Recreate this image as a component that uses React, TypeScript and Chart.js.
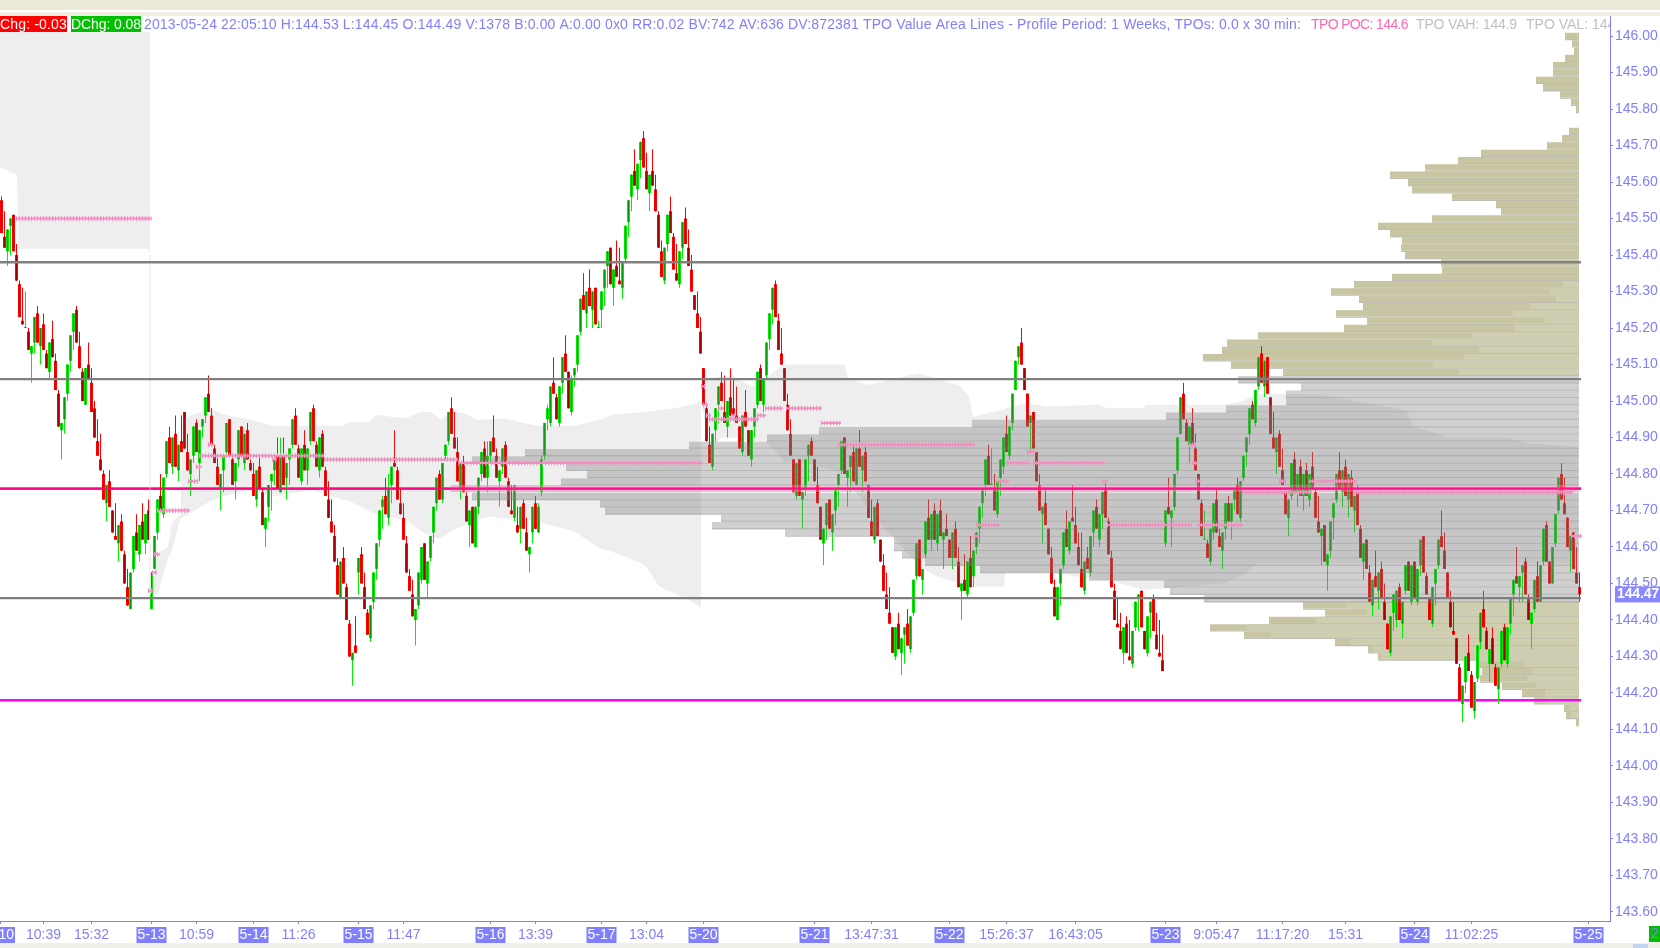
import React, { useEffect, useRef } from "react";
import { Chart, registerables } from "chart.js";

Chart.register(...registerables);

// Prices are stored as hundredths above 144.00; x positions are bar slots.
const BASE = 144;
const opens = [
155,145,141,148,151,140,132,122,120,119,
113,116,124,115,121,113,108,117,111,102,
92,95,102,111,119,125,115,108,99,110,
105,98,89,84,80,72,78,70,63,61,
67,58,49,43,54,64,58,67,61,70,
43,54,64,74,69,80,90,82,91,81,
89,97,86,80,85,94,83,93,96,102,
96,87,82,76,81,86,95,84,78,84,
93,83,92,83,80,73,82,75,65,71,
78,81,85,75,85,79,84,88,96,87,
78,88,81,89,98,88,81,91,81,73,
67,63,55,46,57,49,39,29,33,53,
58,49,42,35,45,54,62,71,74,68,
77,83,81,72,68,61,52,47,40,44,
51,61,50,57,64,72,80,73,85,89,
98,90,86,76,83,74,66,71,60,71,
80,87,79,85,90,85,78,82,88,78,
70,68,66,65,72,64,58,64,72,64,
75,85,95,94,105,101,94,105,113,108,
97,107,110,119,129,124,131,125,131,120,
125,131,137,142,131,137,133,131,139,149,
156,163,158,166,172,163,157,163,158,151,
141,133,143,152,145,135,132,142,150,142,
136,129,124,119,109,98,88,82,92,99,
105,97,93,101,98,96,93,86,97,92,
84,93,99,109,99,107,117,125,132,122,
113,109,99,91,84,74,84,73,76,85,
89,84,77,71,61,66,73,64,70,77,
81,90,79,82,86,77,87,81,86,77,
67,62,72,62,55,47,42,38,30,39,
31,36,39,32,42,52,62,51,58,68,
62,70,61,70,62,65,62,57,65,56,
48,51,47,57,52,60,65,72,77,85,
77,76,69,79,82,91,85,94,103,112,
116,109,102,94,97,86,77,69,72,65,
57,49,40,50,55,65,59,68,66,60,
54,48,57,53,64,71,62,69,76,67,
57,48,39,37,31,39,30,28,38,46,
48,37,31,42,46,36,31,29,61,71,
68,71,81,91,102,94,88,94,87,80,
72,62,61,56,64,73,63,59,65,72,
67,73,77,68,79,86,91,99,94,104,
113,104,112,101,90,86,91,81,75,68,
74,84,75,82,74,81,73,82,75,67,
63,66,55,59,68,73,81,75,82,73,
79,70,75,65,56,62,53,44,52,48,
54,45,39,31,42,40,49,39,48,56,
45,56,45,55,63,52,46,39,50,55,
63,59,53,45,37,35,27,17,23,31,
25,15,24,34,43,37,28,35,27,21,
28,38,28,39,47,52,49,53,56,46,
39,43,52,45,56,66,56,50,61,70,
80,72,68,59,64,53,49];
const closes = [
146,142,147,150,141,133,123,121,120,114,
115,123,116,120,114,109,116,112,103,93,
94,101,110,118,124,116,109,100,109,106,
97,90,85,81,73,77,71,64,62,66,
59,50,44,53,63,59,66,62,69,62,
53,63,73,70,79,89,83,90,82,88,
86,87,81,84,93,86,92,95,101,97,
88,83,77,80,85,94,85,77,83,92,
85,91,84,81,74,81,76,66,68,77,
80,84,76,85,77,83,87,95,88,79,
87,81,87,97,89,82,90,82,74,68,
64,56,47,56,50,40,30,31,31,57,
50,43,36,44,53,61,70,73,69,76,
82,82,73,69,62,53,48,41,43,53,
60,51,56,63,71,79,73,83,88,97,
91,87,78,83,75,67,70,61,71,79,
86,79,85,89,86,79,81,87,79,71,
69,77,64,71,65,59,60,71,65,71,
84,94,98,104,102,95,104,112,108,98,
106,109,118,128,125,130,126,130,121,120,
130,136,141,132,136,134,132,138,148,155,
162,159,165,171,164,158,162,159,152,142,
134,142,151,146,136,133,141,149,143,137,
130,125,120,113,99,89,83,91,98,104,
100,94,100,96,96,94,87,96,93,85,
92,98,108,100,106,116,124,131,123,114,
110,100,92,85,75,83,74,75,84,88,
85,78,72,62,65,72,65,69,76,80,
89,80,81,85,78,87,82,85,78,68,
63,71,63,56,48,43,39,31,38,32,
35,38,33,41,51,61,52,54,67,62,
69,62,69,63,64,63,57,64,57,49,
50,48,56,49,59,64,71,76,84,77,
77,70,78,84,90,86,93,102,111,115,
110,103,93,96,87,78,70,71,66,58,
50,41,49,54,64,60,67,67,61,55,
49,56,54,63,70,65,69,75,68,58,
49,40,38,32,38,31,29,37,45,47,
38,32,41,45,37,32,30,26,70,69,
70,80,90,101,95,89,93,88,81,73,
63,62,57,65,72,64,60,64,72,67,
72,76,69,78,85,90,98,95,103,112,
105,111,102,91,87,90,82,77,69,73,
83,75,80,74,80,74,80,76,68,64,
65,56,58,67,72,80,76,81,74,80,
71,74,66,57,61,54,45,51,49,53,
46,40,32,41,47,48,40,45,55,48,
55,46,54,62,53,47,40,49,54,62,
60,54,46,38,36,28,18,22,30,26,
16,23,33,42,38,32,32,28,22,27,
37,29,38,46,51,50,52,55,47,40,
42,51,45,55,65,56,50,60,69,79,
73,69,60,63,54,50,47];
const highs = [
156,152,147,150,151,143,133,131,130,120,
115,123,126,120,124,114,116,122,113,103,
94,101,110,118,124,126,119,109,109,116,
109,100,95,91,81,77,81,70,72,66,
69,59,54,53,63,69,66,72,69,73,
53,63,73,80,79,89,93,90,96,88,
96,97,91,84,93,95,92,95,101,107,
98,88,85,80,85,94,95,85,83,92,
93,91,94,84,83,81,85,76,68,77,
80,84,90,90,90,83,87,95,98,88,
87,92,87,97,99,89,90,92,82,78,
73,66,57,56,60,50,40,31,41,57,
60,53,43,44,53,61,70,74,79,80,
82,92,82,76,72,63,54,51,43,53,
60,61,56,63,71,79,81,83,88,97,
101,97,90,83,85,75,70,71,71,79,
86,89,89,89,96,87,81,87,89,79,
77,77,71,71,73,68,60,71,74,72,
85,94,99,104,112,102,104,112,118,108,
107,109,118,128,135,130,136,130,131,122,
130,136,141,142,136,144,142,138,148,155,
162,169,165,171,174,168,162,169,162,152,
144,142,151,156,146,143,141,149,153,147,
140,129,130,123,109,99,93,91,98,104,
108,107,100,109,106,104,93,96,103,92,
92,98,108,110,106,116,124,131,133,124,
120,109,102,95,84,83,84,75,84,88,
90,84,82,71,65,72,73,69,76,80,
89,90,81,85,88,87,92,85,88,77,
73,71,73,62,58,53,49,38,38,42,
35,38,43,41,51,61,62,54,67,73,
69,72,69,73,64,69,62,64,67,60,
50,58,56,63,59,64,71,76,84,88,
87,80,78,84,90,96,93,102,111,115,
120,109,102,96,97,86,80,71,76,65,
60,51,49,54,64,70,67,77,71,64,
64,56,60,63,70,73,69,75,78,68,
59,50,46,42,38,41,40,37,45,47,
48,37,41,45,47,42,40,36,70,79,
70,80,90,101,105,95,93,98,91,80,
73,70,62,65,72,76,65,64,72,74,
72,76,79,78,85,90,98,100,103,112,
115,111,112,101,97,90,92,87,76,73,
83,86,80,84,80,83,80,86,76,74,
65,66,58,67,72,80,86,81,84,80,
81,74,77,66,61,62,55,51,59,53,
56,50,39,41,47,48,50,45,55,56,
55,56,54,62,63,53,46,49,54,62,
70,64,53,48,45,35,28,22,30,36,
26,23,33,42,48,38,32,38,28,27,
37,39,38,46,51,60,52,55,57,47,
42,51,56,55,65,67,56,60,69,79,
83,79,68,63,64,60,53];
const lows = [
146,142,137,140,141,133,123,121,120,114,
105,113,116,110,114,109,106,112,103,93,
84,91,100,108,114,116,109,100,99,106,
97,90,85,81,73,67,71,64,62,56,
59,50,44,43,53,59,56,62,58,62,
43,54,62,70,68,79,83,80,82,78,
86,87,81,74,83,86,78,90,94,97,
88,83,77,70,75,85,85,77,73,82,
85,81,84,81,74,71,76,66,60,67,
70,77,76,75,77,73,77,87,88,79,
77,81,77,88,89,82,79,82,74,68,
64,56,47,46,50,40,30,22,31,47,
50,43,36,34,43,51,60,65,69,66,
72,82,73,69,62,53,48,41,33,43,
50,51,46,56,61,70,73,72,84,88,
91,87,78,73,75,67,60,61,60,69,
78,79,75,83,86,79,71,80,79,71,
69,67,64,61,65,59,53,61,65,64,
74,84,92,93,102,95,93,102,108,98,
96,104,108,118,125,120,126,120,121,120,
120,126,131,132,126,134,132,128,138,145,
152,159,155,161,164,158,152,159,152,142,
134,132,141,146,136,133,131,139,143,137,
130,125,120,113,99,89,83,81,89,94,
100,94,90,96,96,94,87,85,93,85,
82,90,98,100,97,106,114,121,123,114,
110,100,92,85,75,73,74,65,74,78,
85,78,72,62,55,62,65,59,66,71,
80,80,71,75,78,77,82,75,78,68,
63,61,63,56,48,43,39,31,29,32,
25,28,33,31,41,51,52,47,57,62,
59,62,59,63,54,63,57,54,57,49,
40,48,46,49,49,58,61,68,74,77,
77,70,68,74,80,86,84,92,103,110,
110,103,93,86,87,78,70,61,66,58,
50,41,40,44,54,60,58,67,61,55,
49,47,54,52,60,65,60,65,68,58,
49,40,38,32,28,31,29,27,37,37,
38,32,30,35,37,32,30,26,60,69,
60,70,80,91,95,89,83,88,81,73,
63,62,57,55,62,64,60,54,62,67,
62,70,69,67,78,82,88,95,93,103,
105,101,102,91,87,80,82,77,69,63,
73,75,71,74,70,74,71,76,68,64,
55,56,48,57,62,72,76,71,74,68,
71,64,66,57,51,54,45,41,49,43,
46,40,32,30,37,38,40,35,47,48,
44,46,44,52,53,47,40,38,44,54,
60,54,46,38,36,28,18,12,20,26,
16,13,23,32,38,32,23,28,22,17,
27,29,27,36,41,50,45,45,47,40,
32,42,45,45,55,56,50,50,60,69,
73,69,60,53,54,50,45];

// Volume profile rows: [price, count]
const tanRows = [[200,14],[198,7],[196,5],[194,14],[192,26],[190,26],[188,43],[186,36],[184,19],[182,8],[180,3],
[174,10],[172,17],[170,32],[168,98],[166,121],[164,154],[162,189],[160,171],[158,167],[156,127],[154,83],[152,78],
[150,147],[148,201],[146,189],[144,177],[142,178],[140,174],[138,138],[136,137],[134,187],[132,225],[130,248],[128,220],
[126,216],[124,243],[122,212],[120,235],[118,321],[116,352],[114,357],[112,376],[110,348],[108,296],
[44,276],[42,254],[40,310],[38,369],[36,335],[34,244],[32,211],[30,201],[28,101],[26,97],[24,99],[22,77],[20,57],[18,45],[16,15],[14,13],[12,3]];
const tanLightRows = [[132,16],[130,29],[128,23],[126,49],[124,66],[122,34],[120,65],[118,107],[116,147],[114,100],[112,115],[110,146],[108,120],
[44,232],[42,212],[40,263],[38,332],[36,308],[34,229],[32,206],[30,198],[28,54],[26,47],[24,52],[22,43],[20,34],[18,33],[16,9],[14,8]];
const valueAreaRows = [[106,341],[104,278],[102,293],[100,293],[98,353],[96,413],[94,607],[92,760],[90,812],[88,890],[86,1054],[84,1107],[82,1013],[80,992],[78,1018],
[74,1107],[72,979],[70,974],[68,858],[66,867],[64,794],[62,685],[60,685],[58,677],[56,654],[54,599],[52,490],[50,415],[48,409],[46,375]];
const pocRow = [[76,1128]];

// Composite value-area bands: slot, upper price, lower price
const band1X = [0,5.7,6.1,49.5,50];
const band1Top = [201.1,201.1,201.1,201.1,201.1];
const band1Bot = [164.1,162,141.7,141.7,140];
const band2X = [50,52.6,56,57.3,60.2,60.8,70,74.8,84,91,104,114.6,115.8,122.7,125.7,132,136,140,143.8,147,150,155,159,163.7,168,179,191.6,199.7,204,207,215,219.7,224.8,230.7,233.7];
const band2Top = [47,58.3,60,66.5,69,95,98,96.2,94.8,93.2,93.2,93.2,94.1,94.1,96.2,95.5,95.5,97,97,94.8,97,96.6,94.8,95,95.2,93.2,93.2,94.8,96.2,96.5,97,97.5,98,99,100];
const band2Bot = [47,47,57,59,68,68,72.5,74,75.7,73.8,75.7,72.9,72.9,70,69,67.9,67,64.5,62.7,62.4,64.2,66,67.5,68.3,67.9,67,64.2,59.7,58.7,57.8,55,49.2,47.3,45.1,43.2];
const band3X = [234,235.7,238.4,240.7,244,250.6,254.8,258,261.7,265,281.5,282.7,289.7,306,312,320,323,324.3,334.6,335.3,342.3,349.3,366.7,369,381,382,408,414.3,419,440,456,469,471,483,502,509.6,526];
const band3Top = [105.8,105.8,106.5,106.7,107,104,105.8,108,110,110,110,106.2,104.4,107.6,106.2,104.2,101.2,95.7,97.7,98,99.4,98.5,99,98,98,99,99,100,102,101.8,99.4,97.5,93,90,90,88.4,87.5];
const band3Bot = [98,92,88.4,90,90,89,89,86.6,83,84,80,78,70,55,52,50,49.2,49.2,49.2,53,53,53,51,51,48.3,48.3,50,52.3,55.5,55.5,55.5,55.5,55.5,55.5,55.5,55.5,55.5];

// Daily TPO point-of-control segments: [start slot, end slot, price]
const pocSegments = [[5.3,50.5,150],[49.3,51.3,48],[50.7,52.3,53],[51.3,53.3,58],[52.3,63.3,70],[62.7,66,78],[65.3,67.3,82],[66.3,108,85],[69.3,71.3,88],[90.7,92.3,84],[108,152.7,84],[152.7,234,83],
[233.7,235.3,104],[234.3,236,99],[235.3,237,96],[236.3,253,95],[239.3,241.3,98],[243.7,245.3,96],[252.3,255.3,96],[255,261,98],[262,274,98],[273.7,280.3,94],[279.3,325,88],[324.7,326.3,63],[325.3,333.3,66],[332.3,336.3,78],[335.7,343,83],[342.3,345.3,86],[344.3,368.3,83],[367.3,369.3,78],[369,397.3,66],[396.3,398.7,88],[397.3,399.3,83],[398.3,400.3,78],[399.3,414.3,66],[414,427.3,75],[426.3,428.7,78],[427.3,437.3,75],[436.3,452.3,78],[451.3,524.3,75],[523.7,527.3,63]];

const levelGrey = [138,106,46];
const levelPink = 76;
const levelMagenta = 18;
const levelEnd = 527;

const yTicks = [146,145.9,145.8,145.7,145.6,145.5,145.4,145.3,145.2,145.1,145,144.9,144.8,144.7,144.6,144.5,144.4,144.3,144.2,144.1,144,143.9,143.8,143.7,143.6];
const xTickSlots = [0,14.5,30.5,50.5,65.5,84.5,99.5,119.5,134.5,163.5,178.5,200.5,215.5,234.5,271.5,290.5,316.5,335.5,358.5,388.5,405.5,427.5,448.5,471.5,490.5,529.5];
const xTickLabels = ["5-10","10:39","15:32","5-13","10:59","5-14","11:26","5-15","11:47","5-16","13:39","5-17","13:04","5-20","5-21","13:47:31","5-22","15:26:37","16:43:05","5-23","9:05:47","11:17:20","15:31","5-24","11:02:25","5-25"];
const lastPrice = 144.47;
const headerText = "2013-05-24 22:05:10 H:144.53 L:144.45 O:144.49 V:1378 B:0.00 A:0.00 0x0 RR:0.02 BV:742 AV:636 DV:872381 TPO Value Area Lines - Profile Period: 1 Weeks, TPOs: 0.0 x 30 min:";
const chgText = "Chg: -0.03";
const dchgText = "DChg: 0.08";
const pocText = "TPO POC: 144.6";
const vahText = "TPO VAH: 144.9";
const valText = "TPO VAL: 144.4";

const BLUE = "#8080ff";
const FONT = '"Liberation Sans"';
const SLOT_PX = 3;
const ANCHOR = 526.33;
const price = (t: number) => BASE + t / 100;

function rowLine(rows: number[][]) {
  const out: any[] = [];
  for (const [t, n] of rows) {
    out.push({ x: ANCHOR - n / SLOT_PX, y: price(t) }, { x: ANCHOR, y: price(t) }, { x: ANCHOR, y: null });
  }
  return out;
}
function sepLine(rows: number[][]) {
  const out: any[] = [];
  for (const [t, n] of rows) {
    out.push({ x: ANCHOR - n / SLOT_PX, y: price(t - 1) }, { x: ANCHOR, y: price(t - 1) }, { x: ANCHOR, y: null });
  }
  return out;
}
const line = (data: any[], color: string, width: number, order: number, extra: any = {}) => ({
  type: "line", data, borderColor: color, borderWidth: width, pointRadius: 0, order,
  borderCapStyle: "butt", spanGaps: false, tension: 0, fill: false, ...extra,
});
const bandPair = (xs: number[], top: number[], bot: number[], order: number) => [
  line(xs.map((x, i) => ({ x, y: price(top[i]) })), "rgba(0,0,0,0)", 0, order, { fill: "+1", backgroundColor: "rgba(128,128,128,0.133)" }),
  line(xs.map((x, i) => ({ x, y: price(bot[i]) })), "rgba(0,0,0,0)", 0, order),
];
function fitText(ctx: any, text: string, x: number, y: number, width: number) {
  ctx.letterSpacing = "0px";
  const w = ctx.measureText(text).width;
  ctx.letterSpacing = `${(width - w) / text.length}px`;
  ctx.fillText(text, x, y);
  ctx.letterSpacing = "0px";
}

function chromePlugin() {
  return {
    id: "chrome",
    afterDraw(chart: any) {
      const { ctx, scales } = chart;
      ctx.save();
      ctx.fillStyle = "#ece9d8"; ctx.fillRect(0, 0, 1660, 10);
      ctx.fillStyle = "#ffffff"; ctx.fillRect(0, 10, 1660, 2);
      ctx.fillStyle = "#f0eee0"; ctx.fillRect(0, 12, 1660, 4);
      ctx.fillStyle = "#ffffff"; ctx.fillRect(0, 16, 1609, 16);
      ctx.fillStyle = "#f1f0e8"; ctx.fillRect(0, 943, 1660, 5);
      ctx.fillStyle = "#c4d4f0"; ctx.fillRect(1633, 944, 15, 4);
      ctx.fillStyle = "#ff0000"; ctx.fillRect(0, 16, 67, 16);
      ctx.fillStyle = "#00c000"; ctx.fillRect(71, 16, 70, 16);
      ctx.fillStyle = BLUE; ctx.fillRect(1610, 16, 1, 16);
      ctx.font = `14px ${FONT}`;
      ctx.textBaseline = "middle";
      ctx.textAlign = "left";
      ctx.fillStyle = "#ffffff";
      fitText(ctx, chgText, 0, 25, 67);
      fitText(ctx, dchgText, 71, 25, 70);
      ctx.fillStyle = BLUE;
      fitText(ctx, headerText, 144, 25, 1157);
      ctx.fillStyle = "#ff69b4";
      fitText(ctx, pocText, 1311, 25, 97);
      ctx.fillStyle = "#c0c0c0";
      fitText(ctx, vahText, 1416, 25, 101);
      ctx.save();
      ctx.beginPath(); ctx.rect(0, 16, 1610, 16); ctx.clip();
      fitText(ctx, valText, 1526, 25, 101);
      ctx.restore();
      const y = scales.y.getPixelForValue(lastPrice);
      ctx.fillStyle = "#8888ff";
      ctx.fillRect(1615, y - 8, 45, 16);
      ctx.fillStyle = "#ffffff";
      ctx.font = `bold 14px ${FONT}`;
      fitText(ctx, lastPrice.toFixed(2), 1617, y, 42);
      ctx.fillStyle = "#00c000"; ctx.fillRect(1649, 926, 11, 16);
      ctx.fillStyle = BLUE; ctx.font = `14px ${FONT}`;
      ctx.fillText("2", 1651, 934);
      ctx.restore();
    },
  };
}

export default function App() {
  const ref = useRef<HTMLCanvasElement | null>(null);
  useEffect(() => {
    document.body.style.margin = "0";
    const n = opens.length;
    const up: any = { wick: [], body: [], core: [] };
    const dn: any = { wick: [], body: [], core: [] };
    for (let i = 0; i < n; i++) {
      const o = price(opens[i]), c = price(closes[i]);
      const set = closes[i] >= opens[i] ? up : dn;
      const x = i + 0.5;
      set.wick.push({ x, y: [price(lows[i]), price(highs[i])] });
      set.body.push({ x, y: [Math.min(o, c), Math.max(o, c)] });
      set.core.push({ x, y: [Math.min(o, c), Math.max(o, c)] });
    }
    const bar = (data: any[], color: string, thick: number, order: number) => ({
      type: "bar", data, backgroundColor: color, barThickness: thick, grouped: false, order,
      borderWidth: 0, inflateAmount: 0, minBarLength: 1,
    });
    const pocData: any[] = [];
    for (const [a, b, t] of pocSegments) {
      pocData.push({ x: a, y: price(t) }, { x: b, y: price(t) }, { x: b, y: null });
    }
    const hl = (t: number, color: string, order: number) =>
      line([{ x: 0, y: price(t) }, { x: levelEnd, y: price(t) }], color, 2.4, order);
    const datasets: any[] = [
      line(sepLine(tanRows), "#bcbcb4", 1.3, 30),
      line(rowLine(tanRows), "#c8c5a2", 6.3, 29),
      line(rowLine(tanLightRows), "#d0ceb0", 6.3, 28),
      hl(levelPink, "#ff0080", 27),
      hl(levelMagenta, "#ff00ff", 26),
      bar(dn.wick, "#ff0000", 1, 25),
      bar(up.wick, "#00f000", 1, 24),
      bar(dn.body, "#ff0000", 3, 23),
      bar(up.body, "#00e800", 3, 22),
      bar(dn.core, "#a80000", 1, 21),
      bar(up.core, "#00a000", 1, 20),
      ...bandPair(band1X, band1Top, band1Bot, 12),
      ...bandPair(band2X, band2Top, band2Bot, 11),
      ...bandPair(band3X, band3Top, band3Bot, 10),
      line([{ x: 50, y: price(140) }, { x: 50, y: price(47) }], "#f0f0f0", 1, 9),
      line(sepLine(valueAreaRows), "rgba(128,128,128,0.5)", 1.3, 8),
      line(rowLine(valueAreaRows), "rgba(128,128,128,0.37)", 6.3, 7),
      line(rowLine(pocRow), "rgba(250,130,190,0.5)", 7, 6),
      hl(levelPink, "rgba(255,0,128,0.75)", 5),
      ...levelGrey.map((t) => hl(t, "#808080", 3)),
      line(pocData, "#f08fc0", 2, 2),
      line(pocData, "#f08fc0", 5, 1, { borderDash: [1, 2] }),
    ];
    const chart = new Chart(ref.current as HTMLCanvasElement, {
      type: "bar",
      data: { datasets },
      plugins: [chromePlugin()],
      options: {
        animation: false,
        responsive: false,
        devicePixelRatio: 1,
        layout: { autoPadding: false, padding: { top: 32, left: 0, right: 0, bottom: 0 } },
        plugins: { legend: { display: false }, tooltip: { enabled: false }, title: { display: false } },
        scales: {
          x: {
            type: "linear", min: 0, max: 1610 / SLOT_PX, offset: false,
            border: { color: BLUE, width: 1 },
            grid: { drawOnChartArea: false, drawTicks: true, tickLength: 3, color: BLUE, offset: false },
            afterBuildTicks: (s: any) => { s.ticks = xTickSlots.map((value) => ({ value })); },
            afterFit: (s: any) => { s.height = 27; s.paddingLeft = 0; s.paddingRight = 0; },
            ticks: {
              autoSkip: false, maxRotation: 0, minRotation: 0, padding: 3,
              font: { family: "Liberation Sans", size: 14 },
              callback: (_v: any, i: number) => xTickLabels[i],
              color: (c: any) => (/^5-/.test(xTickLabels[c.index]) ? "#ffffff" : BLUE),
              showLabelBackdrop: (c: any) => /^5-/.test(xTickLabels[c.index]),
              backdropColor: BLUE,
              backdropPadding: { x: 1, y: 0 },
            },
          },
          y: {
            type: "linear", position: "right", min: 143.5753, max: 146.011,
            border: { color: BLUE, width: 1 },
            grid: { drawOnChartArea: false, drawTicks: true, tickLength: 3, color: BLUE },
            afterBuildTicks: (s: any) => { s.ticks = yTicks.map((value) => ({ value })); },
            afterFit: (s: any) => { s.width = 50; s.paddingTop = 0; s.paddingBottom = 0; },
            ticks: {
              autoSkip: false, padding: 2, color: BLUE, font: { family: "Liberation Sans", size: 14 },
              callback: (v: any) => Number(v).toFixed(2),
            },
          },
        },
      } as any,
    } as any);
    return () => chart.destroy();
  }, []);
  return <canvas ref={ref} width={1660} height={948} style={{ display: "block" }} />;
}
